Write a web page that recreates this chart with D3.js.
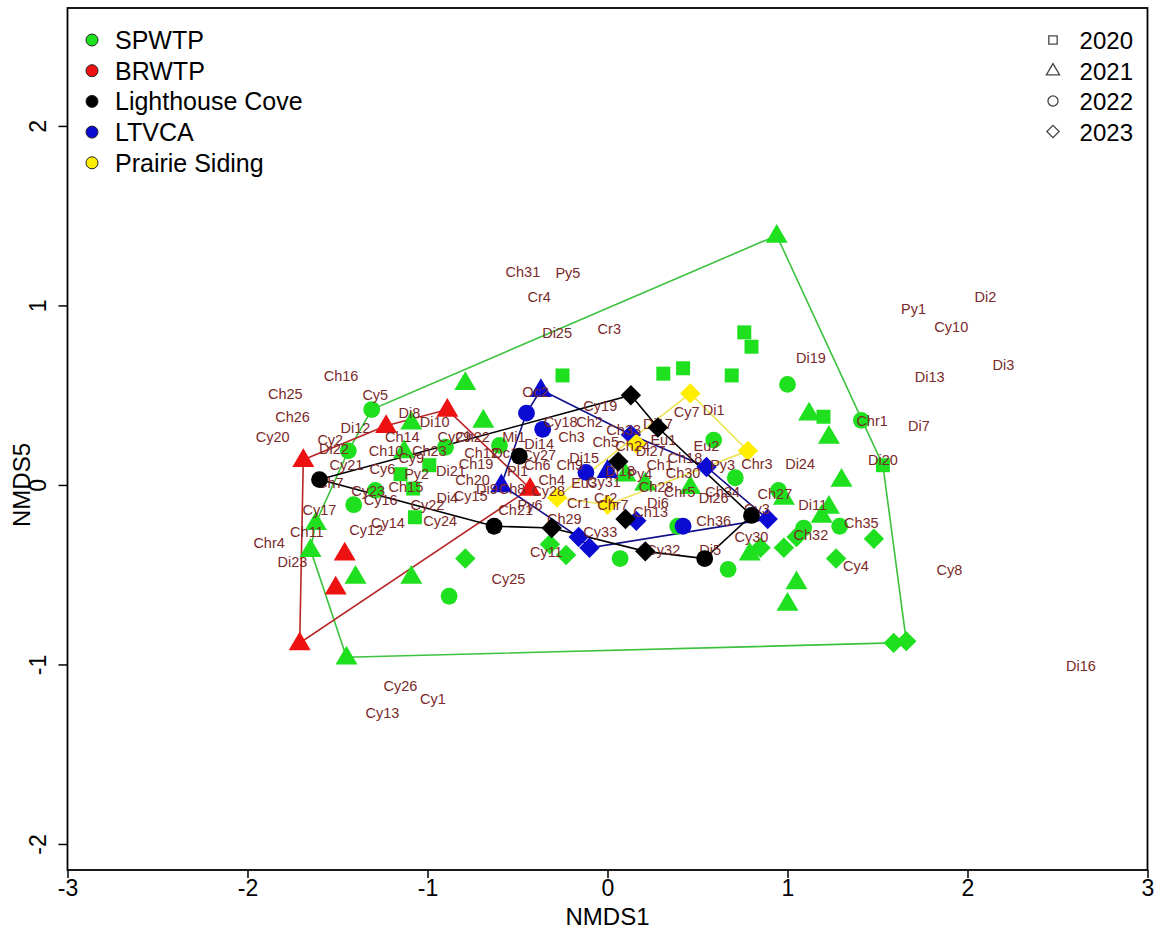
<!DOCTYPE html>
<html><head><meta charset="utf-8">
<script src="https://cdn.jsdelivr.net/npm/d3@7"></script>
<style>body{margin:0;background:#fff}svg{display:block}</style>
</head><body><svg id="c" width="1157" height="937"></svg>
<script>
// ---------- data (NMDS1, NMDS5, year) ----------
const sites = ["SPWTP","BRWTP","Lighthouse Cove","LTVCA","Prairie Siding"];
const years = ["2020","2021","2022","2023"];
const xTicks = [-3,-2,-1,0,1,2,3];
const yTicks = [-2,-1,0,1,2];

const spwtp = [
 [-0.25,0.61,2020],[0.31,0.62,2020],[0.42,0.65,2020],[0.69,0.61,2020],[0.76,0.85,2020],[0.80,0.77,2020],
 [1.20,0.38,2020],[1.53,0.11,2020],[-1.15,0.06,2020],[-0.99,0.11,2020],[-1.08,-0.02,2020],[-1.07,-0.18,2020],
 [0.94,1.39,2021],[-0.79,0.57,2021],[-0.69,0.36,2021],[-1.09,0.35,2021],[-1.13,0.19,2021],[1.12,0.40,2021],
 [1.23,0.27,2021],[1.30,0.03,2021],[1.23,-0.12,2021],[1.19,-0.17,2021],[1.05,-0.54,2021],[1.00,-0.66,2021],
 [0.98,-0.07,2021],[0.79,-0.38,2021],[0.46,-0.01,2021],[0.21,0.01,2021],[0.10,0.06,2021],[-1.62,-0.21,2021],
 [-1.65,-0.36,2021],[-1.40,-0.51,2021],[-1.09,-0.51,2021],[-1.45,-0.96,2021],
 [-1.31,0.42,2022],[-1.44,0.19,2022],[-1.41,-0.11,2022],[-0.88,-0.62,2022],[-0.90,0.21,2022],[-0.60,0.22,2022],
 [1.00,0.56,2022],[1.41,0.36,2022],[0.59,0.25,2022],[0.71,0.04,2022],[0.95,-0.03,2022],[1.09,-0.24,2022],
 [1.29,-0.23,2022],[0.67,-0.47,2022],[0.07,-0.41,2022],[0.39,-0.23,2022],[-1.29,-0.03,2022],
 [-0.32,-0.33,2023],[-0.23,-0.39,2023],[-0.79,-0.41,2023],[0.85,-0.35,2023],[0.98,-0.35,2023],[1.05,-0.29,2023],
 [1.27,-0.41,2023],[1.48,-0.30,2023],[1.59,-0.88,2023],[1.66,-0.87,2023]
];
const spwtpHull = [12,7,60,59,33,30,29,35,34];

const brwtp = [
 [-1.69,0.14,2021],[-1.23,0.33,2021],[-0.89,0.42,2021],[-0.43,-0.02,2021],[-1.46,-0.38,2021],[-1.51,-0.57,2021],[-1.71,-0.88,2021]
];
const brwtpHull = [0,1,2,3,6];

const lighthouse = [
 [-1.60,0.03,2022],[-0.49,0.16,2022],[-0.63,-0.23,2022],[0.54,-0.41,2022],[0.80,-0.17,2022],
 [0.13,0.50,2023],[0.28,0.32,2023],[-0.31,-0.24,2023],[0.21,-0.37,2023],[0.10,-0.19,2023],[0.06,0.13,2023]
];
const lighthouseHull = [0,5,6,4,3,8,7,2];

const ltvca = [
 [-0.37,0.53,2021],[-0.59,0.00,2021],[0.00,0.08,2021],
 [-0.45,0.40,2022],[-0.36,0.31,2022],[-0.12,0.07,2022],[0.42,-0.23,2022],
 [0.13,0.28,2023],[0.55,0.10,2023],[0.89,-0.19,2023],[0.16,-0.20,2023],[-0.16,-0.29,2023],[-0.10,-0.35,2023]
];
const ltvcaHull = [0,7,8,9,12,11,1,3];

const prairie = [
 [0.46,0.51,2023],[0.78,0.19,2023],[0.00,-0.11,2023],[-0.28,-0.07,2023],[0.16,0.23,2023]
];
const prairieHull = [0,1,2,3];

const speciesNames = ["Ch31","Py5","Cr4","Di25","Cr3","Ch16","Ch25","Ch26","Cy5","Cy20","Di12","Di8","Di10","Ch14","Cy2","Di22",
 "Cy29","Ch22","Mi1","Ch10","Cy9","Ch23","Ch12","Oc1","Cy21","Cy6","Py2","Di21","Ch19","Ch20","Ch15","Cy23","Ch7","Cy16",
 "Di4","Cy15","Di9","Ch8","Cy22","Cy17","Cy14","Cy12","Cy24","Ch11","Chr4","Di23","Ch21","Py6","Cy28","Ch6","Ch4","Pl1",
 "Cy27","Di14","Ch3","Cy18","Ch2","Cy19","Oc2","Ch33","Di17","Cy7","Di1","Eu1","Eu2","Ch5","Ch24","Di27","Di15","Ch9","Eu3",
 "Cy31","Di18","Py4","Ch1","Ch18","Ch30","Py3","Chr3","Ch28","Chr5","Ch34","Di26","Cr1","Chr7","Cr2","Di6","Ch13","Ch29",
 "Cy33","Ch36","Cy11","Cy32","Di5","Cy3","Cy30","Ch27","Di24","Di11","Ch32","Ch35","Cy4","Cy8","Di20","Chr1","Di7","Di19",
 "Py1","Di2","Cy10","Di13","Di3","Di16","Cy25","Cy26","Cy1","Cy13"];
const speciesX = [-0.47,-0.22,-0.38,-0.28,0.01,-1.48,-1.79,-1.75,-1.29,-1.86,-1.40,-1.10,-0.96,-1.14,-1.54,-1.52,
 -0.85,-0.75,-0.52,-1.23,-1.09,-0.99,-0.70,-0.57,-1.45,-1.25,-1.06,-0.87,-0.73,-0.75,-1.12,-1.33,-1.54,-1.26,
 -0.89,-0.76,-0.67,-0.53,-1.00,-1.60,-1.22,-1.34,-0.93,-1.67,-1.88,-1.75,-0.51,-0.43,-0.33,-0.39,-0.31,-0.50,
 -0.38,-0.38,-0.20,-0.26,-0.10,-0.04,-0.40,0.09,0.28,0.44,0.59,0.31,0.55,-0.01,0.14,0.24,-0.13,-0.21,-0.13,
 -0.02,0.07,0.18,0.29,0.43,0.42,0.64,0.83,0.27,0.40,0.64,0.59,-0.16,0.03,-0.01,0.28,0.24,-0.24,
 -0.04,0.59,-0.34,0.31,0.57,0.83,0.80,0.93,1.07,1.14,1.13,1.41,1.38,1.90,1.53,1.47,1.73,1.13,
 1.70,2.10,1.91,1.79,2.20,2.63,-0.55,-1.15,-0.97,-1.25];
const speciesY = [1.19,1.18,1.05,0.85,0.87,0.61,0.51,0.38,0.50,0.27,0.32,0.40,0.35,0.27,0.25,0.20,
 0.27,0.27,0.27,0.19,0.15,0.19,0.18,0.18,0.11,0.09,0.06,0.08,0.12,0.03,-0.01,-0.03,0.01,-0.08,
 -0.07,-0.06,-0.02,-0.02,-0.11,-0.14,-0.21,-0.25,-0.20,-0.26,-0.32,-0.43,-0.14,-0.11,-0.03,0.11,0.03,0.08,
 0.17,0.23,0.27,0.35,0.35,0.44,0.52,0.31,0.34,0.41,0.42,0.25,0.22,0.24,0.22,0.19,0.15,0.11,0.01,
 0.02,0.08,0.06,0.11,0.15,0.07,0.11,0.12,-0.01,-0.04,-0.04,-0.07,-0.10,-0.11,-0.07,-0.10,-0.15,-0.19,
 -0.26,-0.20,-0.37,-0.36,-0.36,-0.13,-0.29,-0.05,0.12,-0.11,-0.28,-0.21,-0.45,-0.47,0.14,0.36,0.33,0.71,
 0.98,1.05,0.88,0.60,0.67,-1.01,-0.52,-1.12,-1.19,-1.27];

// ---------- styles ----------
const fillCol = {"SPWTP":"#1fe01f","BRWTP":"#ee1111","Lighthouse Cove":"#000000","LTVCA":"#0a0ad2","Prairie Siding":"#ffee00"};
const hullCol = {"SPWTP":"#3cc23c","BRWTP":"#b82424","Lighthouse Cove":"#000000","LTVCA":"#10108a","Prairie Siding":"#eee35a"};
const groups = [
 {site:"SPWTP", pts:spwtp, hull:spwtpHull},
 {site:"BRWTP", pts:brwtp, hull:brwtpHull},
 {site:"LTVCA", pts:ltvca, hull:ltvcaHull},
 {site:"Prairie Siding", pts:prairie, hull:prairieHull},
 {site:"Lighthouse Cove", pts:lighthouse, hull:lighthouseHull}
];

const svg = d3.select("#c");
const x = d3.scaleLinear().domain([-3,3]).range([67.5,1147.5]);
const y = d3.scaleLinear().domain([-2.145,2.657]).range([870,8]);
const FONT = "'Liberation Sans', Arial, sans-serif";
const fmt = d => String(d);  // plain hyphen-minus like the reference

function shapePath(year, s) {
  if (year == 2020) { const h=7*s; return `M${-h},${-h}H${h}V${h}H${-h}Z`; }
  if (year == 2021) { return `M0,${-11.5*s}L${11*s},${7.3*s}L${-11*s},${7.3*s}Z`; }
  if (year == 2022) { const r=8.4*s; return `M${r},0A${r},${r} 0 1,1 ${-r},0A${r},${r} 0 1,1 ${r},0Z`; }
  const d=10.2*s; return `M0,${-d}L${d},0L0,${d}L${-d},0Z`;
}

// hull lines
const lineG = svg.append("g");
groups.forEach(g => {
  const poly = g.hull.map(i => [x(g.pts[i][0]), y(g.pts[i][1])]);
  lineG.append("path")
    .attr("d", "M" + poly.map(p => p.join(",")).join("L") + "Z")
    .attr("fill","none").attr("stroke", hullCol[g.site]).attr("stroke-width",1.6);
});

function drawPts(g, parent) {
  parent.selectAll(null).data(g.pts).enter().append("path")
    .attr("transform", d => `translate(${x(d[0])},${y(d[1])})`)
    .attr("d", d => shapePath(d[2], 1))
    .attr("fill", fillCol[g.site]);
}
const ptG = svg.append("g");
groups.filter(g => g.site !== "Lighthouse Cove").forEach(g => drawPts(g, ptG));

// species labels
svg.append("g").selectAll("text").data(speciesNames).enter().append("text")
  .attr("x", (d,i) => x(speciesX[i])).attr("y", (d,i) => y(speciesY[i]))
  .attr("dy","0.36em").attr("text-anchor","middle")
  .attr("font-family", FONT).attr("font-size", 14.5).attr("fill","#7a2a2a")
  .text(d => d);

const ptG2 = svg.append("g");
groups.filter(g => g.site === "Lighthouse Cove").forEach(g => drawPts(g, ptG2));

// frame
svg.append("rect").attr("x",67.5).attr("y",8).attr("width",1080).attr("height",862)
  .attr("fill","none").attr("stroke","#000").attr("stroke-width",1.8);

// axes
const xAxis = svg.append("g").attr("transform","translate(0,870)")
  .call(d3.axisBottom(x).tickValues(xTicks).tickSize(8).tickFormat(fmt));
xAxis.select(".domain").remove();
xAxis.selectAll("line").attr("stroke-width",1.5);
xAxis.selectAll("text").attr("font-family",FONT).attr("font-size",23).attr("fill","#000").attr("dy","0.85em").attr("y",6);

const yAxis = svg.append("g").attr("transform","translate(67.5,0)")
  .call(d3.axisLeft(y).tickValues(yTicks).tickSize(9).tickFormat(fmt));
yAxis.select(".domain").remove();
yAxis.selectAll("line").attr("stroke-width",1.5);
yAxis.selectAll("text").attr("font-family",FONT).attr("font-size",23).attr("fill","#000")
  .attr("text-anchor","middle").attr("x",null).attr("dy",null)
  .attr("transform","translate(-14,0) rotate(-90)").attr("y",-8);

svg.append("text").attr("x",607.5).attr("y",925).attr("text-anchor","middle")
  .attr("font-family",FONT).attr("font-size",24).text("NMDS1");
svg.append("text").attr("transform","translate(30,485) rotate(-90)").attr("text-anchor","middle")
  .attr("font-family",FONT).attr("font-size",24).text("NMDS5");

// site legend
const lg = svg.append("g");
sites.forEach((s,i) => {
  const cy = 40 + i*30.7;
  lg.append("circle").attr("cx",92).attr("cy",cy).attr("r",6)
    .attr("fill",fillCol[s]).attr("stroke","#222").attr("stroke-width",1);
  lg.append("text").attr("x",115).attr("y",cy+9).attr("font-family",FONT).attr("font-size",25).text(s);
});
// year legend
const yl = svg.append("g");
years.forEach((yr,i) => {
  const cy = 40 + i*30.5;
  yl.append("path").attr("transform",`translate(1053,${cy})`).attr("d", shapePath(+yr, 0.6))
    .attr("fill","none").attr("stroke","#444").attr("stroke-width",1.3);
  yl.append("text").attr("x",1133).attr("y",cy+9).attr("text-anchor","end")
    .attr("font-family",FONT).attr("font-size",24).text(yr);
});
</script></body></html>
